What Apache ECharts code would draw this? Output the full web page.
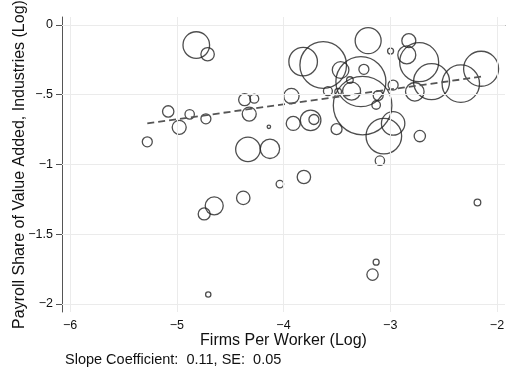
<!DOCTYPE html>
<html>
<head>
<meta charset="utf-8">
<script src="https://cdn.jsdelivr.net/npm/echarts@6/dist/echarts.min.js"></script>
<style>
  html, body { margin: 0; padding: 0; background: #fff; }
  #chart { width: 513px; height: 371px; }
</style>
</head>
<body>
<div id="chart"></div>
<script>
// Industry-level observations: firms per worker (log), payroll share (log), weight
const firmsPerWorker = [
  -4.817, -4.711, -5.080, -4.977, -4.879, -4.727, -5.276, -4.364, -4.274, -4.321,
  -4.137, -4.333, -4.127, -3.926, -3.909, -3.746, -3.715, -3.816, -3.628, -3.207,
  -2.997, -2.826, -2.845, -2.729, -3.465, -3.247, -3.275, -3.259, -3.378, -3.362,
  -3.584, -3.488, -3.113, -3.132, -2.973, -2.770, -2.613, -2.339, -2.149, -3.503,
  -3.060, -2.973, -2.723, -3.097, -3.809, -4.034, -4.377, -4.649, -4.743, -4.705,
  -2.183, -3.132, -3.166
];
const payrollShare = [
  -0.144, -0.210, -0.620, -0.734, -0.641, -0.673, -0.838, -0.536, -0.529, -0.639,
  -0.730, -0.892, -0.888, -0.510, -0.706, -0.684, -0.678, -0.263, -0.287, -0.113,
  -0.187, -0.113, -0.215, -0.267, -0.323, -0.318, -0.407, -0.578, -0.395, -0.475,
  -0.474, -0.479, -0.506, -0.574, -0.431, -0.479, -0.407, -0.421, -0.314, -0.747,
  -0.797, -0.706, -0.797, -0.973, -1.090, -1.141, -1.240, -1.297, -1.355, -1.933,
  -1.273, -1.701, -1.790
];
const industryWeight = [
  177, 45, 32, 49, 22, 25, 25, 36, 20, 49,
  3, 151, 94, 59, 49, 106, 25, 204, 543, 169,
  9, 49, 81, 380, 69, 25, 625, 858, 11, 81,
  20, 11, 25, 18, 25, 86, 324, 350, 306, 30,
  317, 137, 32, 22, 45, 14, 45, 81, 36, 7,
  11, 9, 32
];

// Fitted line endpoints (weighted OLS over the observed range)
const fitX = [-5.276, -2.149];
const fitY = [-0.706, -0.371];

// Axis ticks
const xTicks = [-6, -5, -4, -3, -2];
const yTicks = [0, -0.5, -1, -1.5, -2];

const slopeNote = 'Slope Coefficient:  0.11, SE:  0.05';

function fmt(v) {
  if (v === 0) return '0';
  let s = String(Math.abs(v));
  if (s.startsWith('0.')) s = s.slice(1);
  return (v < 0 ? '\u2212' : '') + s;
}

const points = firmsPerWorker.map((x, i) => [x, payrollShare[i], industryWeight[i]]);

const font = '"Liberation Sans", Arial, Helvetica, sans-serif';
const chart = echarts.init(document.getElementById('chart'), null, { renderer: 'canvas' });

chart.setOption({
  animation: false,
  backgroundColor: '#ffffff',
  grid: { left: 62, right: 8, top: 17, bottom: 59, containLabel: false, outerBoundsMode: 'none' },
  xAxis: {
    type: 'value',
    min: -6.075,
    max: -1.925,
    name: 'Firms Per Worker (Log)',
    nameLocation: 'middle',
    nameGap: 21,
    nameMoveOverlap: false,
    nameTextStyle: { fontFamily: font, fontSize: 16, color: '#111' },
    axisLine: { show: true, lineStyle: { color: '#555', width: 1 } },
    axisTick: { show: true, length: 5, lineStyle: { color: '#555' }, customValues: xTicks },
    axisLabel: { customValues: xTicks, formatter: fmt, fontFamily: font, fontSize: 12.5, color: '#111', margin: 7 },
    splitLine: { show: false }
  },
  yAxis: {
    type: 'value',
    min: -2.058,
    max: 0.057,
    name: 'Payroll Share of Value Added, Industries (Log)',
    nameLocation: 'middle',
    nameGap: 34,
    nameMoveOverlap: false,
    nameTextStyle: { fontFamily: font, fontSize: 16, color: '#111' },
    axisLine: { show: true, lineStyle: { color: '#555', width: 1 } },
    axisTick: { show: true, length: 6, lineStyle: { color: '#555' }, customValues: yTicks },
    axisLabel: { customValues: yTicks, formatter: fmt, fontFamily: font, fontSize: 12.5, color: '#111', margin: 9 },
    splitLine: { show: false }
  },
  series: [
    {
      // light reference grid at each labelled tick
      type: 'line',
      data: [],
      silent: true,
      z: 0,
      markLine: {
        silent: true,
        symbol: 'none',
        label: { show: false },
        lineStyle: { color: '#ebebeb', width: 1, type: 'solid' },
        data: xTicks.map(v => ({ xAxis: v })).concat(yTicks.map(v => ({ yAxis: v })))
      }
    },
    {
      type: 'scatter',
      data: points,
      symbol: 'circle',
      symbolSize: d => 2 * Math.sqrt(d[2]),
      itemStyle: { color: 'rgba(0,0,0,0)', borderColor: '#222', borderWidth: 1.3 },
      z: 3
    },
    {
      type: 'line',
      data: fitX.map((x, i) => [x, fitY[i]]),
      showSymbol: false,
      symbol: 'none',
      lineStyle: { color: '#555', width: 1.8, type: [7, 4] },
      z: 4
    }
  ],
  graphic: [
    {
      type: 'text',
      left: 65,
      top: 352,
      style: { text: slopeNote, font: '14.5px ' + font, fill: '#111' }
    }
  ]
});
</script>
</body>
</html>
